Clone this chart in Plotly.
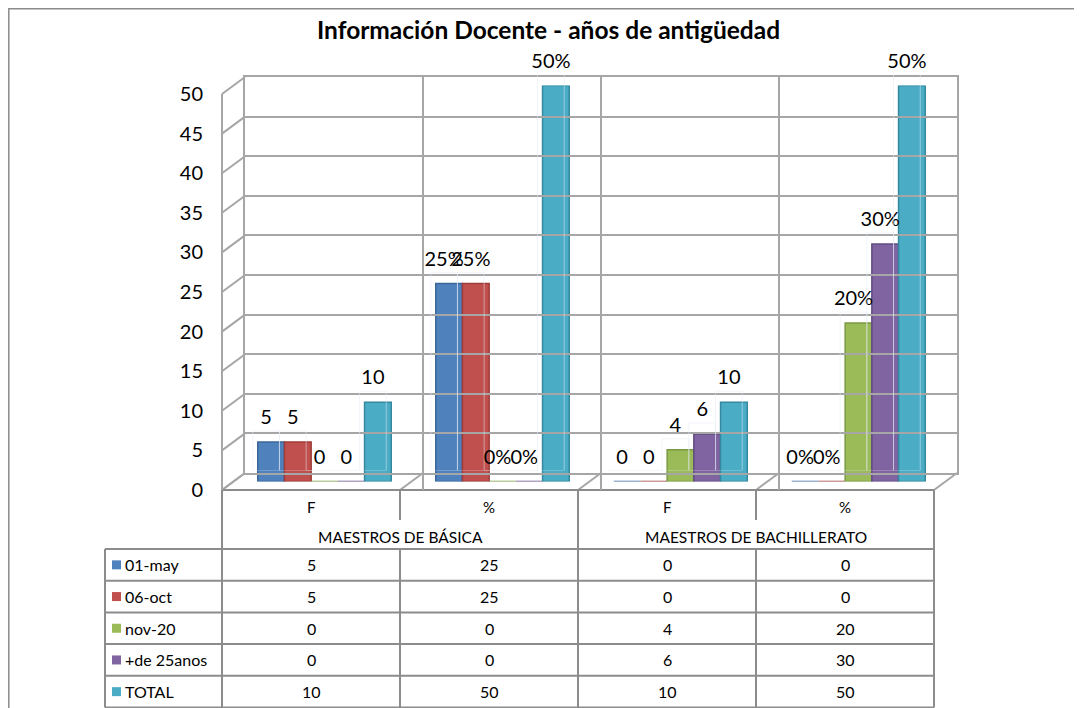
import plotly.graph_objects as go

# ---------------- data ----------------
categories = ["F", "%", "F", "%"]
groups = ["MAESTROS DE BÁSICA", "MAESTROS DE BACHILLERATO"]
series_names = ["01-may", "06-oct", "nov-20", "+de 25anos", "TOTAL"]
may_01 = [5, 25, 0, 0]
oct_06 = [5, 25, 0, 0]
nov_20 = [0, 0, 4, 20]
mas_25 = [0, 0, 6, 30]
total = [10, 50, 10, 50]
series_values = [may_01, oct_06, nov_20, mas_25, total]
y_ticks = list(range(0, 55, 5))
title_text = "Información Docente - años de antigüedad"

# ---------------- style ----------------
colors = ["#4F81BD", "#C0504D", "#9BBB59", "#8064A2", "#4BACC6"]
edges = ["#3A6799", "#9E3B38", "#7A9A42", "#624B82", "#34889F"]
FONT = "Lato"
GRID = "#A6A6A6"
TLINE = "#8C8C8C"

W, H = 1082, 708
OFF = 8  # page body margin


def fx(x):
    return (x - OFF) / W


def fy(y):
    return 1 - (y - OFF) / H


# geometry in pixels (front plane, depth offset)
FX0, FX1 = 222, 934
FY0, FY50 = 490, 94
DX, DY = 23, 17
n_cat = len(categories)
col_w = (FX1 - FX0) / n_cat
ymax = y_ticks[-1]


def y_front(v):
    return FY0 - (FY0 - FY50) * v / ymax


def y_back(v):
    return y_front(v) - DY


fig = go.Figure()
xs = list(range(n_cat))

# bars (mid depth)
for name, vals, c, e in zip(series_names, series_values, colors, edges):
    fig.add_trace(go.Bar(x=xs, y=vals, name=name, marker=dict(color=c, line=dict(color=e, width=1.5)),
                         xaxis="x", yaxis="y", showlegend=False, hoverinfo="skip"))

# data labels (transparent bars on shifted axes)
for name, vals in zip(series_names, series_values):
    texts = [f"{v}%" if cat == "%" else f"{v}" for v, cat in zip(vals, categories)]
    fig.add_trace(go.Bar(x=xs, y=vals, text=texts, textposition="outside", cliponaxis=False,
                         constraintext="none",
                         textfont=dict(family=FONT, size=20, color="black"),
                         marker=dict(color="rgba(0,0,0,0)"), xaxis="x4", yaxis="y4",
                         showlegend=False, hoverinfo="skip"))

# invisible traces to create back wall and front tick axes
fig.add_trace(go.Scatter(x=[None], y=[None], xaxis="x2", yaxis="y2", showlegend=False))
fig.add_trace(go.Scatter(x=[None], y=[None], xaxis="x2", yaxis="y3", showlegend=False))

rng_x = [-0.5, n_cat - 0.5]
hidden = dict(visible=False, fixedrange=True)
BX = DX / 2 + 2

fig.update_layout(
    width=W, height=H,
    margin=dict(l=0, r=0, t=0, b=0, pad=0, autoexpand=False),
    paper_bgcolor="white", plot_bgcolor="rgba(0,0,0,0)",
    barmode="group", bargap=0.25, bargroupgap=0,
    xaxis=dict(domain=[fx(FX0 + BX), fx(FX1 + BX)], range=rng_x, anchor="y", **hidden),
    yaxis=dict(domain=[fy(FY0 - DY / 2), fy(FY50 - DY / 2)], range=[0, ymax], anchor="x", **hidden),
    xaxis4=dict(domain=[fx(FX0 + BX - 5), fx(FX1 + BX - 5)], range=rng_x, anchor="y4", **hidden),
    yaxis4=dict(domain=[fy(FY0 - DY / 2 - 11), fy(FY50 - DY / 2 - 11)], range=[0, ymax], anchor="x4", **hidden),
    xaxis2=dict(domain=[fx(FX0 + DX), fx(FX1 + DX)], range=rng_x, anchor="y2",
                tickvals=[i - 0.5 for i in range(n_cat + 1)], showticklabels=False, ticks="",
                showgrid=True, gridcolor=GRID, gridwidth=2, zeroline=False,
                showline=True, linecolor=GRID, linewidth=2, mirror=True, fixedrange=True),
    yaxis2=dict(domain=[fy(FY0 - DY), fy(FY50 - DY)], range=[0, ymax], anchor="x2",
                tickvals=y_ticks, showticklabels=False, ticks="",
                showgrid=True, gridcolor=GRID, gridwidth=2, zeroline=False,
                showline=True, linecolor=GRID, linewidth=2, mirror=True, fixedrange=True),
    yaxis3=dict(domain=[fy(FY0), fy(FY50)], range=[0, ymax], anchor="free", position=fx(FX0),
                tickvals=y_ticks, ticks="", showgrid=False, zeroline=False, automargin=False,
                showline=True, linecolor=GRID, linewidth=2, ticklabelstandoff=14,
                tickfont=dict(family=FONT, size=20, color="black"), fixedrange=True),
)

shapes = []


def line(x0, y0, x1, y1, color=GRID, width=2):
    shapes.append(dict(type="line", xref="paper", yref="paper", x0=fx(x0), y0=fy(y0), x1=fx(x1), y1=fy(y1),
                       line=dict(color=color, width=width), layer="below"))


# outer chart border
shapes.append(dict(type="rect", xref="paper", yref="paper", x0=fx(8.8), y0=fy(730), x1=fx(1100), y1=fy(8.8),
                   line=dict(color="#8C8C8C", width=1.5), fillcolor="rgba(0,0,0,0)", layer="below"))

# side wall tick diagonals
for v in y_ticks:
    line(FX0, y_front(v), FX0 + DX, y_back(v))
# floor diagonals
for k in range(n_cat + 1):
    xk = FX0 + col_w * k
    line(xk, FY0, xk + DX, FY0 - DY)

# ---------------- data table ----------------
T_LEFT = 105
R_HEAD1 = 520
R_HEAD2 = 549
ROW_H = 31.7
row_edges = [R_HEAD2 + ROW_H * i for i in range(len(series_names) + 1)]
col_edges = [FX0 + col_w * k for k in range(n_cat + 1)]
col_centers = [FX0 + col_w * (k + 0.5) for k in range(n_cat)]

line(FX0, FY0, FX1, FY0, TLINE)
for y in row_edges:
    line(T_LEFT, y, FX1, y, TLINE)
line(T_LEFT, row_edges[0], T_LEFT, row_edges[-1], TLINE)
per_group = n_cat // len(groups)
for k, xk in enumerate(col_edges):
    if k % per_group == 0:
        line(xk, FY0, xk, row_edges[-1], TLINE)
    else:
        line(xk, FY0, xk, R_HEAD1, TLINE)
        line(xk, R_HEAD2, xk, row_edges[-1], TLINE)


def note(text, x, y, size=14, xanchor="center", bold=False):
    return dict(text=f"<b>{text}</b>" if bold else text, xref="paper", yref="paper", x=fx(x), y=fy(y),
                xanchor=xanchor, yanchor="middle", showarrow=False,
                font=dict(family=FONT, size=size, color="black"))


annotations = [note(title_text, 548, 30, size=24.5, bold=True)]

for cat, xc in zip(categories, col_centers):
    annotations.append(note(cat, xc, 507, size=15))
for g, grp in enumerate(groups):
    xc = (col_edges[g * per_group] + col_edges[(g + 1) * per_group]) / 2
    annotations.append(note(grp, xc, 537, size=15.5))

for r, (name, vals, c) in enumerate(zip(series_names, series_values, colors)):
    yc = (row_edges[r] + row_edges[r + 1]) / 2
    shapes.append(dict(type="rect", xref="paper", yref="paper", x0=fx(112), x1=fx(121),
                       y0=fy(yc + 4.5), y1=fy(yc - 4.5), fillcolor=c, line=dict(width=0)))
    annotations.append(note(name, 123, yc, size=16, xanchor="left"))
    for v, xc in zip(vals, col_centers):
        annotations.append(note(str(v), xc, yc, size=16))

fig.update_layout(shapes=shapes, annotations=annotations)
fig.write_html("out.html")
